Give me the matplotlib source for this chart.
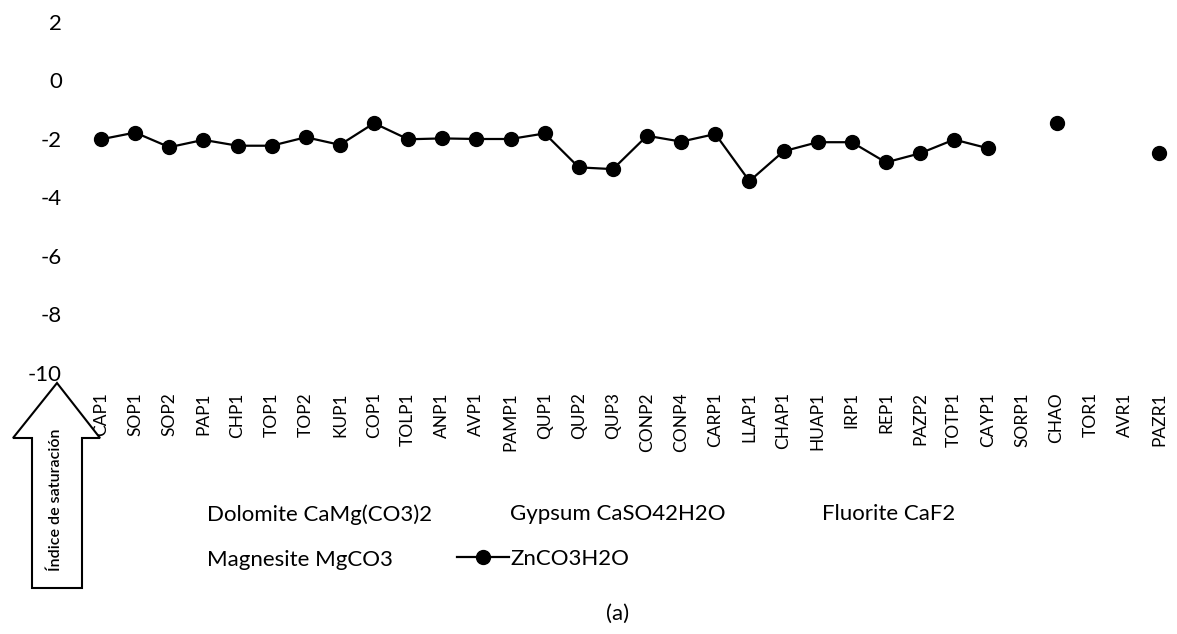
import numpy as np
import matplotlib
matplotlib.use('Agg')
import matplotlib.pyplot as plt
from matplotlib.patches import Polygon
from matplotlib.lines import Line2D

plt.rcParams['font.family'] = ['Lato', 'DejaVu Sans']

# Sampling points and saturation index of ZnCO3H2O (NaN = no value)
samples = ['CAP1', 'SOP1', 'SOP2', 'PAP1', 'CHP1', 'TOP1', 'TOP2', 'KUP1', 'COP1',
           'TOLP1', 'ANP1', 'AVP1', 'PAMP1', 'QUP1', 'QUP2', 'QUP3', 'CONP2', 'CONP4',
           'CARP1', 'LLAP1', 'CHAP1', 'HUAP1', 'IRP1', 'REP1', 'PAZP2', 'TOTP1', 'CAYP1',
           'SORP1', 'CHAO', 'TOR1', 'AVR1', 'PAZR1']
zn = [-2.02, -1.79, -2.29, -2.04, -2.24, -2.24, -1.95, -2.21, -1.47,
      -2.02, -1.99, -2.01, -2.01, -1.82, -2.98, -3.04, -1.90, -2.10,
      -1.84, -3.45, -2.43, -2.12, -2.12, -2.81, -2.50, -2.03, -2.33,
      np.nan, -1.48, np.nan, np.nan, -2.50]

# other minerals are in the legend but not drawn
hidden = ['Dolomite CaMg(CO3)2', 'Magnesite MgCO3', 'Gypsum CaSO42H2O', 'Fluorite CaF2']
zn_label = 'ZnCO3H2O'

yticks = [2, 0, -2, -4, -6, -8, -10]

W, H = 1177, 634
fig = plt.figure(figsize=(W / 100, H / 100), dpi=100)
ax = fig.add_axes([84 / W, 1 - 372.7 / H, 1092 / W, 351 / H])

x = np.arange(len(samples))
zn_line, = ax.plot(x, zn, color='black', linewidth=1.6, marker='o', markersize=10,
                   label=zn_label)

ax.set_xlim(-0.5, len(samples) - 0.5)
ax.set_ylim(-10, 2)
ax.set_yticks(yticks)
ax.set_yticklabels([str(t) for t in yticks], fontsize=16)
ax.set_xticks(x)
ax.set_xticklabels(samples, rotation=90, fontsize=12.5)
ax.tick_params(axis='y', length=0, pad=16)
ax.tick_params(axis='x', length=0, pad=14)
for s in ax.spines.values():
    s.set_visible(False)

blank = {name: Line2D([], [], linestyle='none', marker=None) for name in hidden}

leg_kw = dict(frameon=False, fontsize=16, handlelength=2.35, handletextpad=0.05,
              borderpad=0, borderaxespad=0, labelspacing=1.13, loc='upper left')
top = 1 - 504 / H
col1 = fig.legend([blank[hidden[0]], blank[hidden[1]]], hidden[:2],
                  bbox_to_anchor=(154 / W, top), **leg_kw)
col2 = fig.legend([blank[hidden[2]], zn_line], [hidden[2], zn_label],
                  bbox_to_anchor=(457 / W, top), **leg_kw)
col3 = fig.legend([blank[hidden[3]]], [hidden[3]],
                  bbox_to_anchor=(769 / W, top), **leg_kw)

fig.text(618 / W, 1 - 614 / H, '(a)', ha='center', va='center', fontsize=16)

# hollow arrow holding the axis title
pts = [(57, 383), (100, 438), (82, 438), (82, 588), (32, 588), (32, 438), (13, 438)]
arrow = Polygon([(px / W, 1 - py / H) for px, py in pts], closed=True,
                transform=fig.transFigure, facecolor='white', edgecolor='black',
                linewidth=1.5)
fig.add_artist(arrow)
fig.text(56 / W, 1 - 500 / H, 'Índice de saturación', rotation=90, ha='center',
         va='center', fontsize=11.5, fontweight='semibold')

fig.savefig('out.png', dpi=100)
